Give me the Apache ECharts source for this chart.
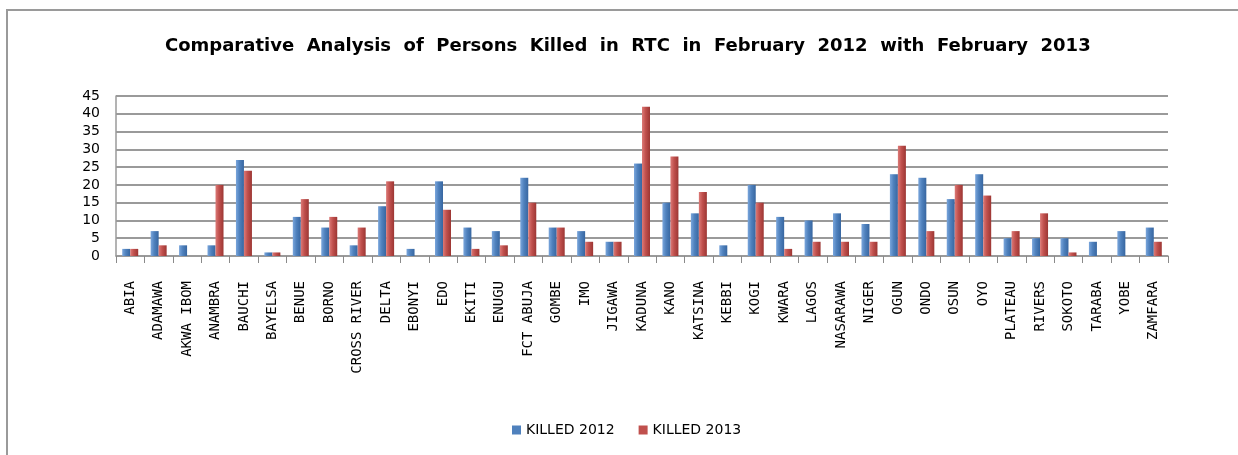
<!DOCTYPE html>
<html>
<head>
<meta charset="utf-8">
<style>
  html, body { margin: 0; padding: 0; background: #fff; }
  #chart { width: 1238px; height: 455px; }
</style>
<script src="https://cdn.jsdelivr.net/npm/echarts@6/dist/echarts.min.js"></script>
</head>
<body>
<div id="chart"></div>
<script>
// States of Nigeria, in chart order
const states = [
  'ABIA', 'ADAMAWA', 'AKWA IBOM', 'ANAMBRA', 'BAUCHI', 'BAYELSA', 'BENUE', 'BORNO',
  'CROSS RIVER', 'DELTA', 'EBONYI', 'EDO', 'EKITI', 'ENUGU', 'FCT ABUJA', 'GOMBE',
  'IMO', 'JIGAWA', 'KADUNA', 'KANO', 'KATSINA', 'KEBBI', 'KOGI', 'KWARA', 'LAGOS',
  'NASARAWA', 'NIGER', 'OGUN', 'ONDO', 'OSUN', 'OYO', 'PLATEAU', 'RIVERS', 'SOKOTO',
  'TARABA', 'YOBE', 'ZAMFARA'
];

// Persons killed in road traffic crashes, February 2012
const killed2012 = [
  2, 7, 3, 3, 27, 1, 11, 8,
  3, 14, 2, 21, 8, 7, 22, 8,
  7, 4, 26, 15, 12, 3, 20, 11, 10,
  12, 9, 23, 22, 16, 23, 5, 5, 5,
  4, 7, 8
];

// Persons killed in road traffic crashes, February 2013
const killed2013 = [
  2, 3, 0, 20, 24, 1, 16, 11,
  8, 21, 0, 13, 2, 3, 15, 8,
  4, 4, 42, 28, 18, 0, 15, 2, 4,
  4, 4, 31, 7, 20, 17, 7, 12, 1,
  0, 0, 4
];

const yTicks = { min: 0, max: 45, interval: 5 };

const seriesNames = ['KILLED 2012', 'KILLED 2013'];
const seriesColors = ['#4f81bd', '#c0504d'];

const font = '"DejaVu Sans", sans-serif';
const monoFont = '"DejaVu Sans Mono", monospace';

// Horizontal shading so each bar reads as a rounded column
function shade(light, mid, dark) {
  return new echarts.graphic.LinearGradient(0, 0, 1, 0, [
    { offset: 0, color: light },
    { offset: 0.45, color: mid },
    { offset: 1, color: dark }
  ]);
}

const chart = echarts.init(document.getElementById('chart'), null, { renderer: 'canvas' });

chart.setOption({
  animation: false,
  backgroundColor: '#ffffff',
  title: {
    text: 'Comparative  Analysis  of  Persons  Killed  in  RTC  in  February  2012  with  February  2013',
    left: 160,
    top: 32,
    textStyle: { fontFamily: font, fontWeight: 'bold', fontSize: 18, color: '#000' }
  },
  graphic: [{
    type: 'rect',
    shape: { x: 7, y: 10, width: 1300, height: 500 },
    style: { fill: 'none', stroke: '#9a9a9a', lineWidth: 2 },
    silent: true
  }],
  legend: {
    data: seriesNames.map((name, i) => ({ name, itemStyle: { color: seriesColors[i] } })),
    bottom: 13,
    left: 507,
    itemWidth: 9,
    itemHeight: 9,
    itemGap: 24,
    icon: 'rect',
    textStyle: { fontFamily: font, fontSize: 14, color: '#000' }
  },
  grid: { left: 116, right: 70, top: 96, bottom: 199, containLabel: false },
  xAxis: {
    type: 'category',
    data: states,
    boundaryGap: true,
    axisLine: { show: true, lineStyle: { color: '#9a9a9a', width: 1.5 } },
    axisTick: { show: true, length: 7, lineStyle: { color: '#8a8a8a' } },
    axisLabel: {
      rotate: 90,
      margin: 25,
      interval: 0,
      fontFamily: monoFont,
      fontSize: 14,
      color: '#000'
    }
  },
  yAxis: {
    type: 'value',
    min: yTicks.min,
    max: yTicks.max,
    interval: yTicks.interval,
    axisLine: { show: true, lineStyle: { color: '#9a9a9a', width: 1.5 } },
    axisTick: { show: false },
    axisLabel: { margin: 16, fontFamily: font, fontSize: 14, color: '#000' },
    splitLine: { show: true, lineStyle: { color: '#9a9a9a', width: 2 } }
  },
  series: [
    {
      name: seriesNames[0],
      type: 'bar',
      data: killed2012,
      barWidth: 8,
      barGap: '0%',
      itemStyle: { color: shade('#7aa6dc', seriesColors[0], '#3766a0') }
    },
    {
      name: seriesNames[1],
      type: 'bar',
      data: killed2013,
      barWidth: 8,
      barGap: '0%',
      itemStyle: { color: shade('#dc7a77', seriesColors[1], '#9c3633') }
    }
  ]
});
</script>
</body>
</html>
